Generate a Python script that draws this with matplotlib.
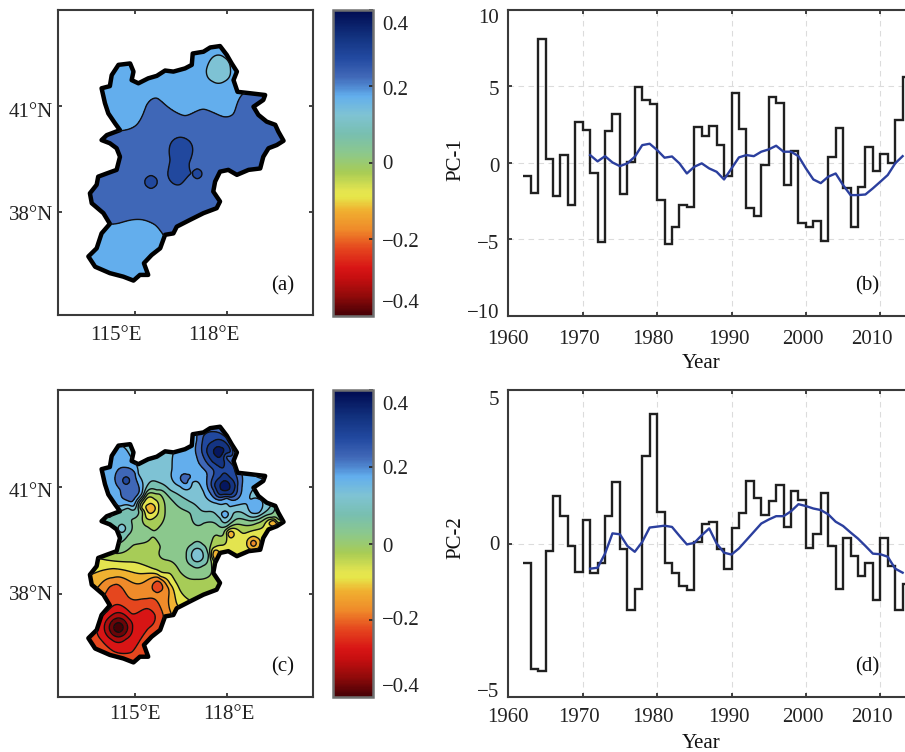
import numpy as np
import matplotlib
matplotlib.use("Agg")
import matplotlib.pyplot as plt
from matplotlib.colors import LinearSegmentedColormap, Normalize
from matplotlib.cm import ScalarMappable
from matplotlib.patches import Polygon
from matplotlib.transforms import ScaledTranslation

plt.rcParams['font.family'] = ['Liberation Serif', 'DejaVu Serif']
plt.rcParams['contour.negative_linestyle'] = 'solid'
W, H = 905, 752
DPI = 100

# ---------- time series ----------
years_edges = list(range(1962, 2015))
pc1 = [-0.87,-1.96,8.1,0.26,-2.17,0.5,-2.74,2.63,2.13,-0.7,-5.2,2.09,3.2,-2.07,0.02,4.96,4.09,3.83,-2.43,-5.33,
       -4.17,-2.76,-2.91,2.33,1.74,2.41,1.17,-0.89,4.52,2.2,-2.98,-3.48,-0.15,4.3,3.89,-1.46,0.78,-3.96,-4.22,-3.8,
       -5.1,0.39,2.3,-1.63,-4.2,-1.61,1.04,-0.52,0.57,-0.04,2.76,5.6]
pc2 = [-0.62,-4.08,-4.16,-0.25,1.55,0.89,-0.09,-0.92,0.76,-0.96,-0.65,0.9,2.01,-0.18,-2.17,-1.49,2.85,4.22,1.03,-0.65,
       -0.95,-1.39,-1.51,0.05,0.62,0.71,-0.18,-0.82,0.49,0.98,2.02,1.47,0.92,1.39,1.9,0.55,1.72,1.43,-0.16,0.3,
       1.63,-0.09,-1.47,0.17,-0.4,-1.07,-0.62,-1.84,0.17,-0.72,-2.17,-1.33]
smooth_years = list(range(1971, 2014))
pc1_smooth = [0.5,0.09,0.43,0.02,-0.22,-0.04,0.39,1.15,1.24,0.83,0.33,0.41,-0.04,-0.7,-0.26,-0.04,-0.37,-0.59,-1.09,-0.37,
              0.35,0.5,0.43,0.72,0.87,1.11,0.72,0.72,0.43,-0.37,-1.09,-1.33,-0.91,-0.7,-1.46,-2.11,-2.11,-2.07,-1.67,-1.24,
              -0.8,-0.04,0.43]
pc2_smooth = [-0.82,-0.79,-0.33,0.33,0.3,-0.08,-0.27,0.05,0.52,0.55,0.58,0.54,0.25,-0.03,0.02,0.27,0.49,0.0,-0.3,-0.36,
              -0.16,0.11,0.38,0.65,0.78,0.89,0.89,1.05,1.28,1.22,1.14,1.09,0.95,0.71,0.57,0.36,0.16,-0.08,-0.33,-0.35,
              -0.43,-0.82,-0.95]

# ---------- region outline (lon, lat) ----------
outline_lon = [113.91,114.18,114.24,114.46,114.84,114.95,114.89,115.11,115.43,115.71,115.98,116.25,116.63,116.85,116.88,
               117.23,117.45,117.77,117.99,118.15,118.32,118.21,118.34,118.75,119.24,119.18,118.86,119.02,119.29,119.57,
               119.67,119.84,119.62,119.35,119.18,119.08,118.70,118.32,118.04,117.77,117.61,117.55,117.77,117.66,117.23,
               116.79,116.36,116.25,115.98,115.82,115.54,115.29,115.43,115.16,114.95,114.62,114.18,113.70,113.48,113.75,
               113.91,114.18,113.97,113.59,113.53,113.75,113.80,114.08,114.40,114.51,114.40,114.18,113.91,114.08,114.51,
               114.35,114.13,114.02]
outline_lat = [41.49,41.55,41.86,42.15,42.19,41.96,41.72,41.63,41.77,41.84,41.99,41.96,42.05,42.15,42.47,
               42.52,42.64,42.68,42.43,42.19,41.96,41.72,41.39,41.35,41.30,41.16,40.97,40.74,40.55,40.46,
               40.27,40.01,39.89,39.80,39.56,39.23,39.19,39.05,39.19,39.14,38.86,38.58,38.30,38.11,37.97,
               37.78,37.59,37.40,37.36,36.98,36.79,36.56,36.23,36.23,36.07,36.18,36.28,36.46,36.75,36.98,
               37.40,37.67,37.97,38.25,38.53,38.77,39.00,39.09,39.19,39.56,39.80,39.94,40.03,40.17,40.31,
               40.50,40.78,41.07]

# ---------- panel (a): loading samples (value, [(lon, lat), ...]) ----------
a_iso_020 = [(114.35,40.27),(114.67,40.31),(115.05,40.46),(115.38,41.02),(115.71,41.21),(116.14,40.92),(116.63,40.72),
             (117.23,40.90),(117.88,40.69),(118.21,40.78),(118.48,41.30),
             (114.18,37.67),(114.73,37.75),(115.27,37.78),(115.65,37.64),(115.92,37.36)]
a_fill_0175 = [(114.95,41.16),(116.58,41.63),(117.34,41.25),(114.51,41.72),(116.03,41.54),(117.12,42.19),(118.42,41.54),
               (114.73,36.93),(114.08,36.84),(115.38,37.12),(113.86,37.22),(114.95,36.18)]
a_fill_0225 = [(114.51,39.85),(115.49,40.03),(117.66,40.22),(119.08,40.03),(118.21,39.47),(114.08,38.44),(117.12,38.15),
               (115.49,38.15),(114.95,39.47),(117.55,39.56),(119.73,40.03),(116.36,37.78),(118.86,41.07)]
a_iso_025 = [(116.47,40.11),(116.88,39.75),(116.77,39.38),(116.82,39.09),(116.47,38.78),(116.07,39.09),(116.14,39.47),(116.12,39.80)]
a_peak = [(116.45,39.47,0.28),(115.52,38.85,0.27),(117.03,39.08,0.27),(117.72,42.02,0.125)]
# rings: lon, lat, half-width, half-height, value
a_rings = [(115.52,38.85,0.20,0.17,0.25),(117.03,39.08,0.15,0.13,0.25),(117.72,42.02,0.39,0.39,0.15)]

# ---------- panel (c): loading samples ----------
c_iso_000 = [(114.35,39.13),(114.95,39.36),(115.54,39.57),(115.82,39.31),(116.03,38.94),(116.47,38.61),(117.01,38.40),
             (117.39,38.47),(117.47,38.94),(117.45,39.31),(117.66,39.64),(118.10,39.88),(118.97,39.97),(119.46,40.14)]
c_iso_m005 = [(113.86,38.98),(114.73,38.89),(115.60,38.70),(116.14,38.56),(116.47,38.09),(116.79,37.81),
              (117.55,38.94),(117.61,39.31),(117.99,39.64),(118.53,39.69),(119.18,39.88),(119.62,40.02)]
c_iso_m010 = [(113.64,38.56),(114.29,38.70),(115.16,38.56),(115.82,38.49),(116.14,38.28),(116.36,37.72),(116.52,37.53)]
c_iso_m015 = [(113.80,38.19),(114.29,38.45),(115.16,38.28),(115.76,38.45),(116.09,38.14),(116.14,37.53)]
c_iso_m020 = [(113.97,37.91),(114.18,38.19),(114.40,38.26),(114.78,37.91),(115.38,37.86),(115.82,37.63),(115.92,37.39)]
c_fill_m023 = [(113.64,36.69),(115.16,36.27),(115.76,37.11),(113.86,37.53)]
c_iso_m025 = [(113.75,37.06),(114.08,37.49),(114.89,37.44),(115.38,37.58),(115.65,37.39),(115.43,37.02),(115.16,36.69),
              (114.89,36.36),(114.29,36.39),(113.91,36.69)]
c_iso_005 = [(114.46,39.41),(114.78,39.64),(114.89,40.06),(115.14,40.55),(115.71,40.91),(116.25,40.58),(116.79,40.25),
             (117.23,39.97),(117.99,39.89),(118.64,40.06),(119.29,40.20),(119.57,40.39)]
c_iso_010 = [(115.27,40.77),(115.71,41.14),(116.14,40.91),(116.79,40.58),(117.34,40.30),(117.77,40.11),(118.21,40.25),
             (118.64,40.20),(119.08,40.20),(119.46,40.51),(115.18,40.67),(114.78,40.39),(114.35,40.39),(113.97,40.25)]
c_iso_015 = [(116.25,41.94),(116.20,41.47),(116.47,41.00),(117.23,40.86),(117.66,40.53),(118.10,40.44),(118.75,40.77),(119.18,41.19),
             (114.89,41.80),(115.11,41.37),(115.22,40.81),(114.95,40.46),(114.46,40.46),(114.08,40.30)]
c_iso_020 = [(114.35,41.28),(114.67,41.54),(115.00,41.37),(115.11,40.81),(114.89,40.58),(114.51,40.91),
             (117.01,42.31),(117.01,41.84),(117.34,41.37),(117.39,40.91),(117.99,40.67),(118.48,40.91),(118.48,41.37),
             (118.32,41.84),(118.21,42.12),(117.88,42.59)]
c_iso_025 = [(117.23,42.41),(117.23,41.84),(117.55,41.47),(117.55,40.91),(117.99,40.72),(118.34,41.00),(118.21,41.56),
             (117.99,41.84),(118.15,42.12),(117.77,42.50)]
c_fill = [(116.36,39.88,0.025),(116.68,39.59,0.025),(114.95,39.55,0.025),(114.95,39.08,-0.025),(117.66,38.19,-0.025),
          (117.12,38.00,-0.025),(116.68,38.14,-0.025),(117.77,38.66,-0.025),(118.21,39.36,-0.075),(119.18,39.59,-0.075),
          (114.29,39.97,0.075),(117.12,40.06,0.075),(117.12,40.63,0.125),(115.71,41.56,0.125),(116.79,41.19,0.175),
          (116.68,41.84,0.175),(118.64,41.19,0.175),(114.57,41.84,0.175),(114.18,41.56,0.175),(115.16,37.25,-0.28)]
c_peak = [(114.46,37.05,-0.45),(115.73,38.19,-0.23),(114.57,39.83,0.13),(114.71,41.17,0.28),(116.63,41.23,0.22),
          (117.93,40.22,0.17),(118.91,40.46,0.18),(117.72,41.98,0.38),(117.93,41.02,0.38),(115.51,40.39,-0.13),
          (117.03,39.08,0.13),(118.86,39.41,-0.18),(118.13,39.66,-0.13),(117.64,39.08,-0.13),(119.49,39.97,-0.15)]
c_rings = [(114.46,37.05,0.46,0.39,-0.30),(114.46,37.05,0.30,0.26,-0.35),(114.46,37.05,0.15,0.13,-0.40),
           (115.73,38.19,0.17,0.15,-0.20),(114.57,39.83,0.12,0.11,0.10),(114.71,41.17,0.11,0.10,0.25),
           (116.63,41.23,0.15,0.13,0.20),(117.93,40.22,0.11,0.09,0.15),(118.91,40.46,0.25,0.22,0.15),
           (117.72,41.98,0.38,0.33,0.30),(117.72,41.98,0.16,0.14,0.35),(117.93,41.02,0.33,0.28,0.30),(117.93,41.02,0.16,0.14,0.35),
           (115.60,40.33,0.38,0.53,0.00),(115.50,40.39,0.27,0.30,-0.05),(115.51,40.39,0.15,0.13,-0.10),
           (117.03,39.08,0.36,0.35,0.05),(117.03,39.08,0.19,0.19,0.10),
           (118.86,39.41,0.22,0.19,-0.10),(118.86,39.41,0.09,0.08,-0.15),(118.13,39.66,0.10,0.09,-0.10),
           (117.64,39.08,0.10,0.15,-0.10),(119.49,39.97,0.12,0.07,-0.10)]

# ---------- colour scale ----------
cb_vals = [-0.40,-0.35,-0.30,-0.275,-0.225,-0.175,-0.125,-0.09,-0.075,-0.025,0.025,0.075,0.125,0.175,0.20,0.225,0.275,0.33,0.40]
cb_cols = ['#450005','#900a0a','#c80f10','#d81515','#e5451e','#ef8a2a','#f0b030','#e6e64a','#e5e54f','#a8cc55',
           '#8cc88c','#78bfb0','#7fc3d3','#62aeed','#4f88d0','#4169b8','#2249a0','#12327f','#000a50']
levels = [round(-0.5 + 0.05*i, 2) for i in range(21)]
cb_ticks = [-0.4, -0.2, 0, 0.2, 0.4]
cb_ticklabels = ['−0.4', '−0.2', '0', '0.2', '0.4']

cmap = LinearSegmentedColormap.from_list('pc', [((v+0.4)/0.8, c) for v, c in zip(cb_vals, cb_cols)], N=256)


def collect(groups, triples, rings):
    pts = []
    for val, lst in groups:
        pts += [(x, y, val) for x, y in lst]
    pts += list(triples)
    for x, y, rx, ry, val in rings:
        for ang in np.deg2rad([0, 60, 120, 180, 240, 300]):
            pts.append((x + rx*np.cos(ang), y + ry*np.sin(ang), val))
    return np.array(pts)


def surface(pts, gx, gy, lam=1e-5):
    x, y, v = pts.T
    d = np.hypot(x[:, None]-x[None, :], y[:, None]-y[None, :])
    with np.errstate(divide='ignore', invalid='ignore'):
        K = np.where(d > 0, d**2*np.log(d), 0.0)
    P = np.column_stack([np.ones_like(x), x, y])
    n = len(x)
    A = np.zeros((n+3, n+3))
    A[:n, :n] = K + lam*np.eye(n)
    A[:n, n:] = P
    A[n:, :n] = P.T
    sol = np.linalg.lstsq(A, np.r_[v, 0, 0, 0], rcond=None)[0]
    r = np.hypot(gx[..., None]-x, gy[..., None]-y)
    with np.errstate(divide='ignore', invalid='ignore'):
        U = np.where(r > 0, r**2*np.log(r), 0.0)
    return U @ sol[:n] + sol[n] + sol[n+1]*gx + sol[n+2]*gy


grid_lon, grid_lat = np.meshgrid(np.linspace(113.2, 120.1, 300), np.linspace(35.9, 42.9, 300))

a_pts = collect([(0.20, a_iso_020), (0.175, a_fill_0175), (0.225, a_fill_0225), (0.25, a_iso_025)], a_peak, a_rings)
c_pts = collect([(0.0, c_iso_000), (-0.05, c_iso_m005), (-0.10, c_iso_m010), (-0.15, c_iso_m015), (-0.20, c_iso_m020),
                 (-0.23, c_fill_m023), (-0.25, c_iso_m025), (0.05, c_iso_005), (0.10, c_iso_010), (0.15, c_iso_015),
                 (0.20, c_iso_020), (0.25, c_iso_025)], c_fill + c_peak, c_rings)

fig = plt.figure(figsize=(W/DPI, H/DPI), dpi=DPI)


def box(x0, y0, x1, y1):
    return fig.add_axes([x0/W, 1-y1/H, (x1-x0)/W, (y1-y0)/H])


def shift(label, dx=0, dy=0):
    label.set_transform(label.get_transform() + ScaledTranslation(dx/DPI, -dy/DPI, fig.dpi_scale_trans))


def style(ax, color='#3a3a3a'):
    for s in ax.spines.values():
        s.set_linewidth(1.5)
        s.set_color(color)


def map_panel(y0, y1, pts, xoff, yoff, xpad, tag, tagy):
    ax = box(58, y0, 313, y1)
    ax.set_xlim(112.49, 120.8)
    ax.set_ylim(35.1, 43.71)
    field = surface(pts, grid_lon, grid_lat)
    clip = Polygon(np.column_stack([outline_lon, outline_lat]), closed=True, transform=ax.transData, fc='none', ec='none')
    ax.add_patch(clip)
    norm = Normalize(-0.4, 0.4)
    cf = ax.contourf(grid_lon, grid_lat, field, levels=levels, cmap=cmap, norm=norm, extend='both')
    cl = ax.contour(grid_lon, grid_lat, field, levels=levels, colors='#101010', linewidths=1.0)
    cf.set_clip_path(clip)
    cl.set_clip_path(clip)
    ax.add_patch(Polygon(np.column_stack([outline_lon, outline_lat]), closed=True, fc='none', ec='black', lw=3.2, joinstyle='round'))
    ax.set_xticks([115, 118], ['115°E', '118°E'])
    ax.set_yticks([38, 41], ['38°N', '41°N'])
    ax.tick_params(direction='in', length=3, width=1.2, top=True, right=True, labelsize=15, colors='#222222')
    ax.tick_params(axis='x', pad=xpad)
    ax.tick_params(axis='y', pad=3.6)
    for t, dx in zip(ax.get_xticklabels(), xoff):
        shift(t, dx=dx)
    for t, dy in zip(ax.get_yticklabels(), yoff):
        shift(t, dy=dy)
    style(ax)
    fig.text(283/W, 1-tagy/H, tag, fontsize=15, ha='center', va='center', color='#111111')
    return ax


def colorbar(y0, y1, offs):
    cax = box(333, y0, 373, y1)
    cb = fig.colorbar(ScalarMappable(norm=Normalize(-0.4, 0.4), cmap=cmap), cax=cax)
    cb.set_ticks(cb_ticks, labels=[''] * len(cb_ticks))
    cax.tick_params(direction='in', length=3, width=1.2, colors='#222222')
    cb.outline.set_linewidth(1.8)
    cb.outline.set_edgecolor('#707070')
    for v, s, dy in zip(cb_ticks, cb_ticklabels, offs):
        txt = cax.text(1.0, v, s, transform=cax.get_yaxis_transform(), fontsize=15, ha='left', va='center', color='#222222')
        shift(txt, dx=9, dy=dy)


def series_panel(y0, y1, steps, sm, ylim, ticks, ticklabels, yoffs, xpad, ylabel, tag, tagy, ylab_y):
    ax = box(508.3, y0, 917.5, y1)
    ax.set_xlim(1960, 2015)
    ax.set_ylim(*ylim)
    ax.grid(True, ls=(0, (5, 4)), color='#dcdcdc', lw=0.8)
    ax.set_axisbelow(True)
    ax.stairs(steps, years_edges, color='#202020', lw=1.7, baseline=None)
    ax.plot(smooth_years, sm, color='#2b3f9e', lw=1.7)
    xt = [1960, 1970, 1980, 1990, 2000, 2010]
    ax.set_xticks(xt, [str(v) for v in xt])
    ax.set_yticks(ticks, ticklabels)
    ax.tick_params(direction='in', length=3, width=1.2, top=True, labelsize=15, colors='#222222')
    ax.tick_params(axis='x', pad=xpad)
    ax.tick_params(axis='y', pad=6.5)
    for t, dx in zip(ax.get_xticklabels(), [0, -4, -4, -3, -3, -8]):
        shift(t, dx=dx)
    for t, dy in zip(ax.get_yticklabels(), yoffs):
        shift(t, dy=dy)
    style(ax)
    fig.text(701/W, 1-ylab_y[0]/H, 'Year', fontsize=15, ha='center', va='center', color='#111111')
    fig.text(456/W, 1-ylab_y[1]/H, ylabel, fontsize=15, rotation=90, ha='center', va='center', color='#111111')
    fig.text(867/W, 1-tagy/H, tag, fontsize=15, ha='center', va='center', color='#111111')
    return ax


map_panel(9.5, 315, a_pts, [-19, -13], [0.5, 4], 8, '(a)', 286)
colorbar(9.5, 316, [-13, 3, 2, 4, 15.5])
series_panel(9.5, 316, pc1, pc1_smooth, (-10, 10), [-10, -5, 0, 5, 10], ['−10', '−5', '0', '5', '10'],
             [-5, 2.5, 2.3, 2, 6.5], 10, 'PC-1', '(b)', 286, (364, 160))

map_panel(390, 697, c_pts, [0, 2], [-1, 3.3], 6, '(c)', 667)
colorbar(390, 697, [-10, 0, 4, 3, 15])
series_panel(390, 697, pc2, pc2_smooth, (-5, 5), [-5, 0, 5], ['−5', '0', '5'],
             [-7, 0, 8], 8, 'PC-2', '(d)', 667, (743, 538))

fig.savefig('out.png', dpi=DPI)
